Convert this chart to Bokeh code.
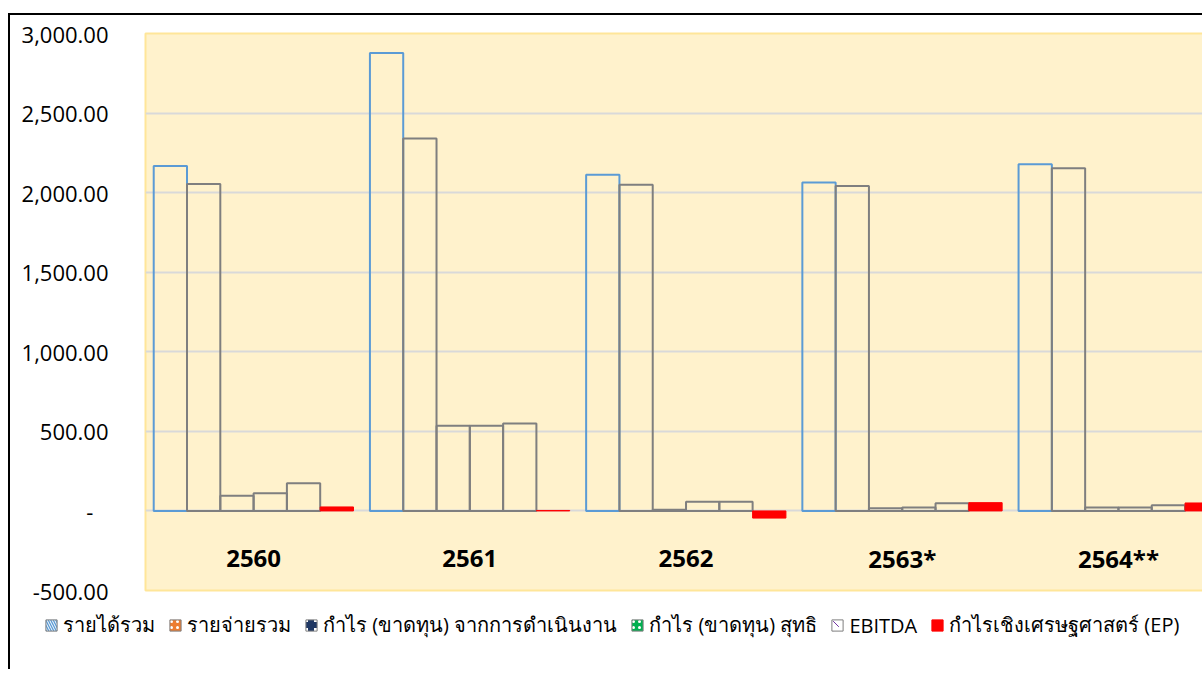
import numpy as np
from bokeh.plotting import figure
from bokeh.models import (Range1d, NumeralTickFormatter, FixedTicker, Legend, LegendItem,
                          ColumnDataSource)
from bokeh.core.properties import value
from bokeh.embed import file_html
from bokeh.resources import INLINE

# ---- data ----
years = ["2560", "2561", "2562", "2563*", "2564**"]
revenue = [2168, 2878, 2113, 2063, 2178]
expense = [2055, 2340, 2050, 2042, 2153]
op_profit = [96, 536, 8, 17, 21]
net_profit = [111, 536, 58, 21, 21]
ebitda = [174, 549, 58, 48, 36]
ep = [25, 3, -45, 52, 50]

series_names = ["รายได้รวม", "รายจ่ายรวม", "กำไร (ขาดทุน) จากการดำเนินงาน",
                "กำไร (ขาดทุน) สุทธิ", "EBITDA", "กำไรเชิงเศรษฐศาสตร์ (EP)"]
series_values = [revenue, expense, op_profit, net_profit, ebitda, ep]
y_ticks = [-500, 0, 500, 1000, 1500, 2000, 2500, 3000]

FONT = "Open Sans"
BG = "#FFF2CC"
GRID = "#D9D9D9"
BLUE = "#5B9BD5"
GRAY = "#7F7F7F"
RED = "#FF0000"

W = 1194
EXTRA = 20
p = figure(width=W, height=576 + EXTRA, output_backend="svg", toolbar_location=None,
           x_range=Range1d(0, 4.898), y_range=Range1d(-500, 3000),
           min_border_left=135, min_border_top=18, min_border_right=0,
           min_border_bottom=1 + EXTRA)
p.styles = {"border-left": "2px solid black", "border-top": "2px solid black",
            "margin-left": "8px", "margin-top": "13px"}

p.background_fill_color = BG
p.border_fill_color = "white"
p.outline_line_color = "#FFE699"
p.outline_line_width = 2
p.xaxis.visible = False
p.xgrid.grid_line_color = None
p.ygrid.grid_line_color = GRID
p.ygrid.grid_line_width = 2
p.ygrid.ticker = FixedTicker(ticks=y_ticks)

ax = p.yaxis[0]
ax.ticker = FixedTicker(ticks=y_ticks)
ax.formatter = NumeralTickFormatter(format="0,0.00")
ax.major_label_overrides = {0: "-\u00a0\u00a0\u2009"}
ax.axis_line_color = None
ax.major_tick_line_color = None
ax.minor_tick_line_color = None
ax.major_label_standoff = 31
ax.major_label_text_font = FONT
ax.major_label_text_font_size = "22px"
ax.major_label_text_color = "#000000"

n = len(series_values)
bw = 0.154
centers = np.arange(len(years)) + 0.5
for i, vals in enumerate(series_values):
    xs = centers + (i - (n - 1) / 2) * bw
    src = ColumnDataSource(dict(x=xs, top=vals))
    if i == 0:
        p.vbar(x="x", top="top", bottom=0, width=bw, source=src,
               fill_color=None, line_color=BLUE, line_width=2)
    elif i == n - 1:
        p.vbar(x="x", top="top", bottom=0, width=bw, source=src,
               fill_color=RED, line_color=RED, line_width=1)
    else:
        p.vbar(x="x", top="top", bottom=0, width=bw, source=src,
               fill_color=None, line_color=GRAY, line_width=2)

# category labels inside the plot area
p.text(x=centers, y=[-300] * len(years), text=years, text_font=value(FONT),
       text_font_style="bold", text_font_size="24px", text_align="center",
       text_baseline="middle", text_color="black")

# ---- legend strip (separate transparent figure overlapping the chart's bottom border) ----
LH = 80
lf = figure(width=W, height=LH, output_backend="svg", toolbar_location=None,
            x_range=Range1d(0, 1), y_range=Range1d(0, 1),
            min_border_left=34, min_border_right=0, min_border_top=20, min_border_bottom=0)
lf.styles = {"border-left": "2px solid black", "margin-left": "8px",
             "margin-top": f"-{EXTRA}px"}
lf.axis.visible = False
lf.grid.visible = False
lf.outline_line_color = None
lf.background_fill_color = None
lf.border_fill_color = None

styles = [
    dict(fill_color=BLUE, hatch_pattern="\\", hatch_color="white", hatch_scale=5, hatch_weight=1),
    dict(fill_color="#ED7D31", hatch_pattern=".", hatch_color="white", hatch_scale=6, hatch_weight=2),
    dict(fill_color="white", hatch_pattern="+", hatch_color="#203864", hatch_scale=12, hatch_weight=6),
    dict(fill_color="#00B050", hatch_pattern=".", hatch_color="white", hatch_scale=6, hatch_weight=2),
    dict(fill_color="white", hatch_pattern="`", hatch_color="#7030A0", hatch_scale=10, hatch_weight=1),
    dict(fill_color=RED),
]
items = []
for name, st in zip(series_names, styles):
    line_color = RED if st["fill_color"] == RED else GRAY
    # swatch renderer: a single bar placed outside the visible range
    r = lf.vbar(x=[-5], top=[-5], bottom=[-6], width=0.1, line_color=line_color,
                line_width=1, **st)
    items.append(LegendItem(label=name, renderers=[r]))

legend = Legend(items=items, orientation="horizontal", location="top_left",
                glyph_width=14, glyph_height=14, label_standoff=5, spacing=13,
                padding=0, margin=0, border_line_color=None, background_fill_alpha=0,
                label_text_font=FONT, label_text_font_size="20px",
                label_text_color="black", label_height=20)
lf.add_layout(legend, "center")

open("out.html", "w").write(file_html([p, lf], INLINE))
